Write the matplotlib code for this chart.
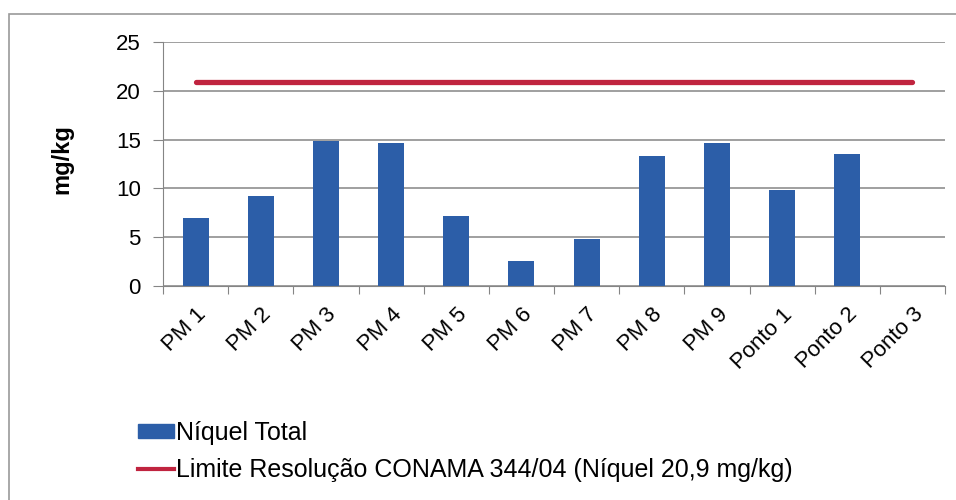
import matplotlib.pyplot as plt
import matplotlib
import numpy as np
from matplotlib.patches import Rectangle
from matplotlib.lines import Line2D


# ========================== Data ==========================
categories = ["PM 1", "PM 2", "PM 3", "PM 4", "PM 5", "PM 6", "PM 7",
              "PM 8", "PM 9", "Ponto 1", "Ponto 2", "Ponto 3"]
niquel_total = [7.0, 9.2, 14.9, 14.7, 7.2, 2.6, 4.8, 13.3, 14.7, 9.8, 13.5, np.nan]
limite_conama = 20.9

# ========================== Settings ==========================
matplotlib.rc('font', family='Liberation Sans', size=16)
BLUE = '#2c5ea8'
RED = '#c0243f'
GRID = '#858585'

# ========================== Plot ==========================
fig = plt.figure(figsize=(9.56, 5.0), dpi=100)
ax = fig.add_axes([0.1705, 0.428, 0.818, 0.488])

x = np.arange(len(categories))
ax.bar(x, niquel_total, width=0.4, color=BLUE, zorder=2)
ax.plot([x[0], x[-1]], [limite_conama, limite_conama], color=RED, lw=3.8,
        zorder=3, solid_capstyle='round')

ax.set_xlim(-0.5, len(categories) - 0.5)
ax.set_ylim(0, 25)
ax.set_yticks([0, 5, 10, 15, 20, 25])
ax.yaxis.grid(True, color=GRID, lw=1.1, zorder=0)
ax.set_axisbelow(True)

# category boundary ticks on x axis, labels at centres
ax.set_xticks(np.arange(len(categories) + 1) - 0.5, minor=False)
ax.set_xticklabels([])
ax.set_xticks(x, minor=True)
ax.set_xticklabels(categories, minor=True, rotation=45, ha='right',
                   rotation_mode='anchor', fontsize=16)
ax.tick_params(axis='x', which='minor', length=0, pad=13)
ax.tick_params(axis='x', which='major', length=6, color=GRID, direction='out')
ax.tick_params(axis='y', length=7, color=GRID, direction='out', labelsize=16, pad=9)

for s in ['top', 'right']:
    ax.spines[s].set_visible(False)
for s in ['left', 'bottom']:
    ax.spines[s].set_color(GRID)

ax.set_ylabel('mg/kg', fontsize=17, fontweight='bold')
ax.yaxis.set_label_coords(-0.115, 0.52)

# legend below the plot
handles = [
    Rectangle((0, 0), 1, 1, color=BLUE),
    Line2D([0], [0], color=RED, lw=3),
]
labels = ['Níquel Total', 'Limite Resolução CONAMA 344/04 (Níquel 20,9 mg/kg)']
fig.legend(handles, labels, loc='upper left', bbox_to_anchor=(0.144, 0.158),
           frameon=False, fontsize=18, handlelength=1.45, handleheight=0.45,
           handletextpad=0.1, labelspacing=0.52, borderpad=0, borderaxespad=0)

# outer chart border
fig.add_artist(Rectangle((0.009, -0.1), 1.1, 1.072, transform=fig.transFigure,
                         fill=False, edgecolor='#9a9a9a', lw=1.2))

plt.savefig('out.png', dpi=100)
